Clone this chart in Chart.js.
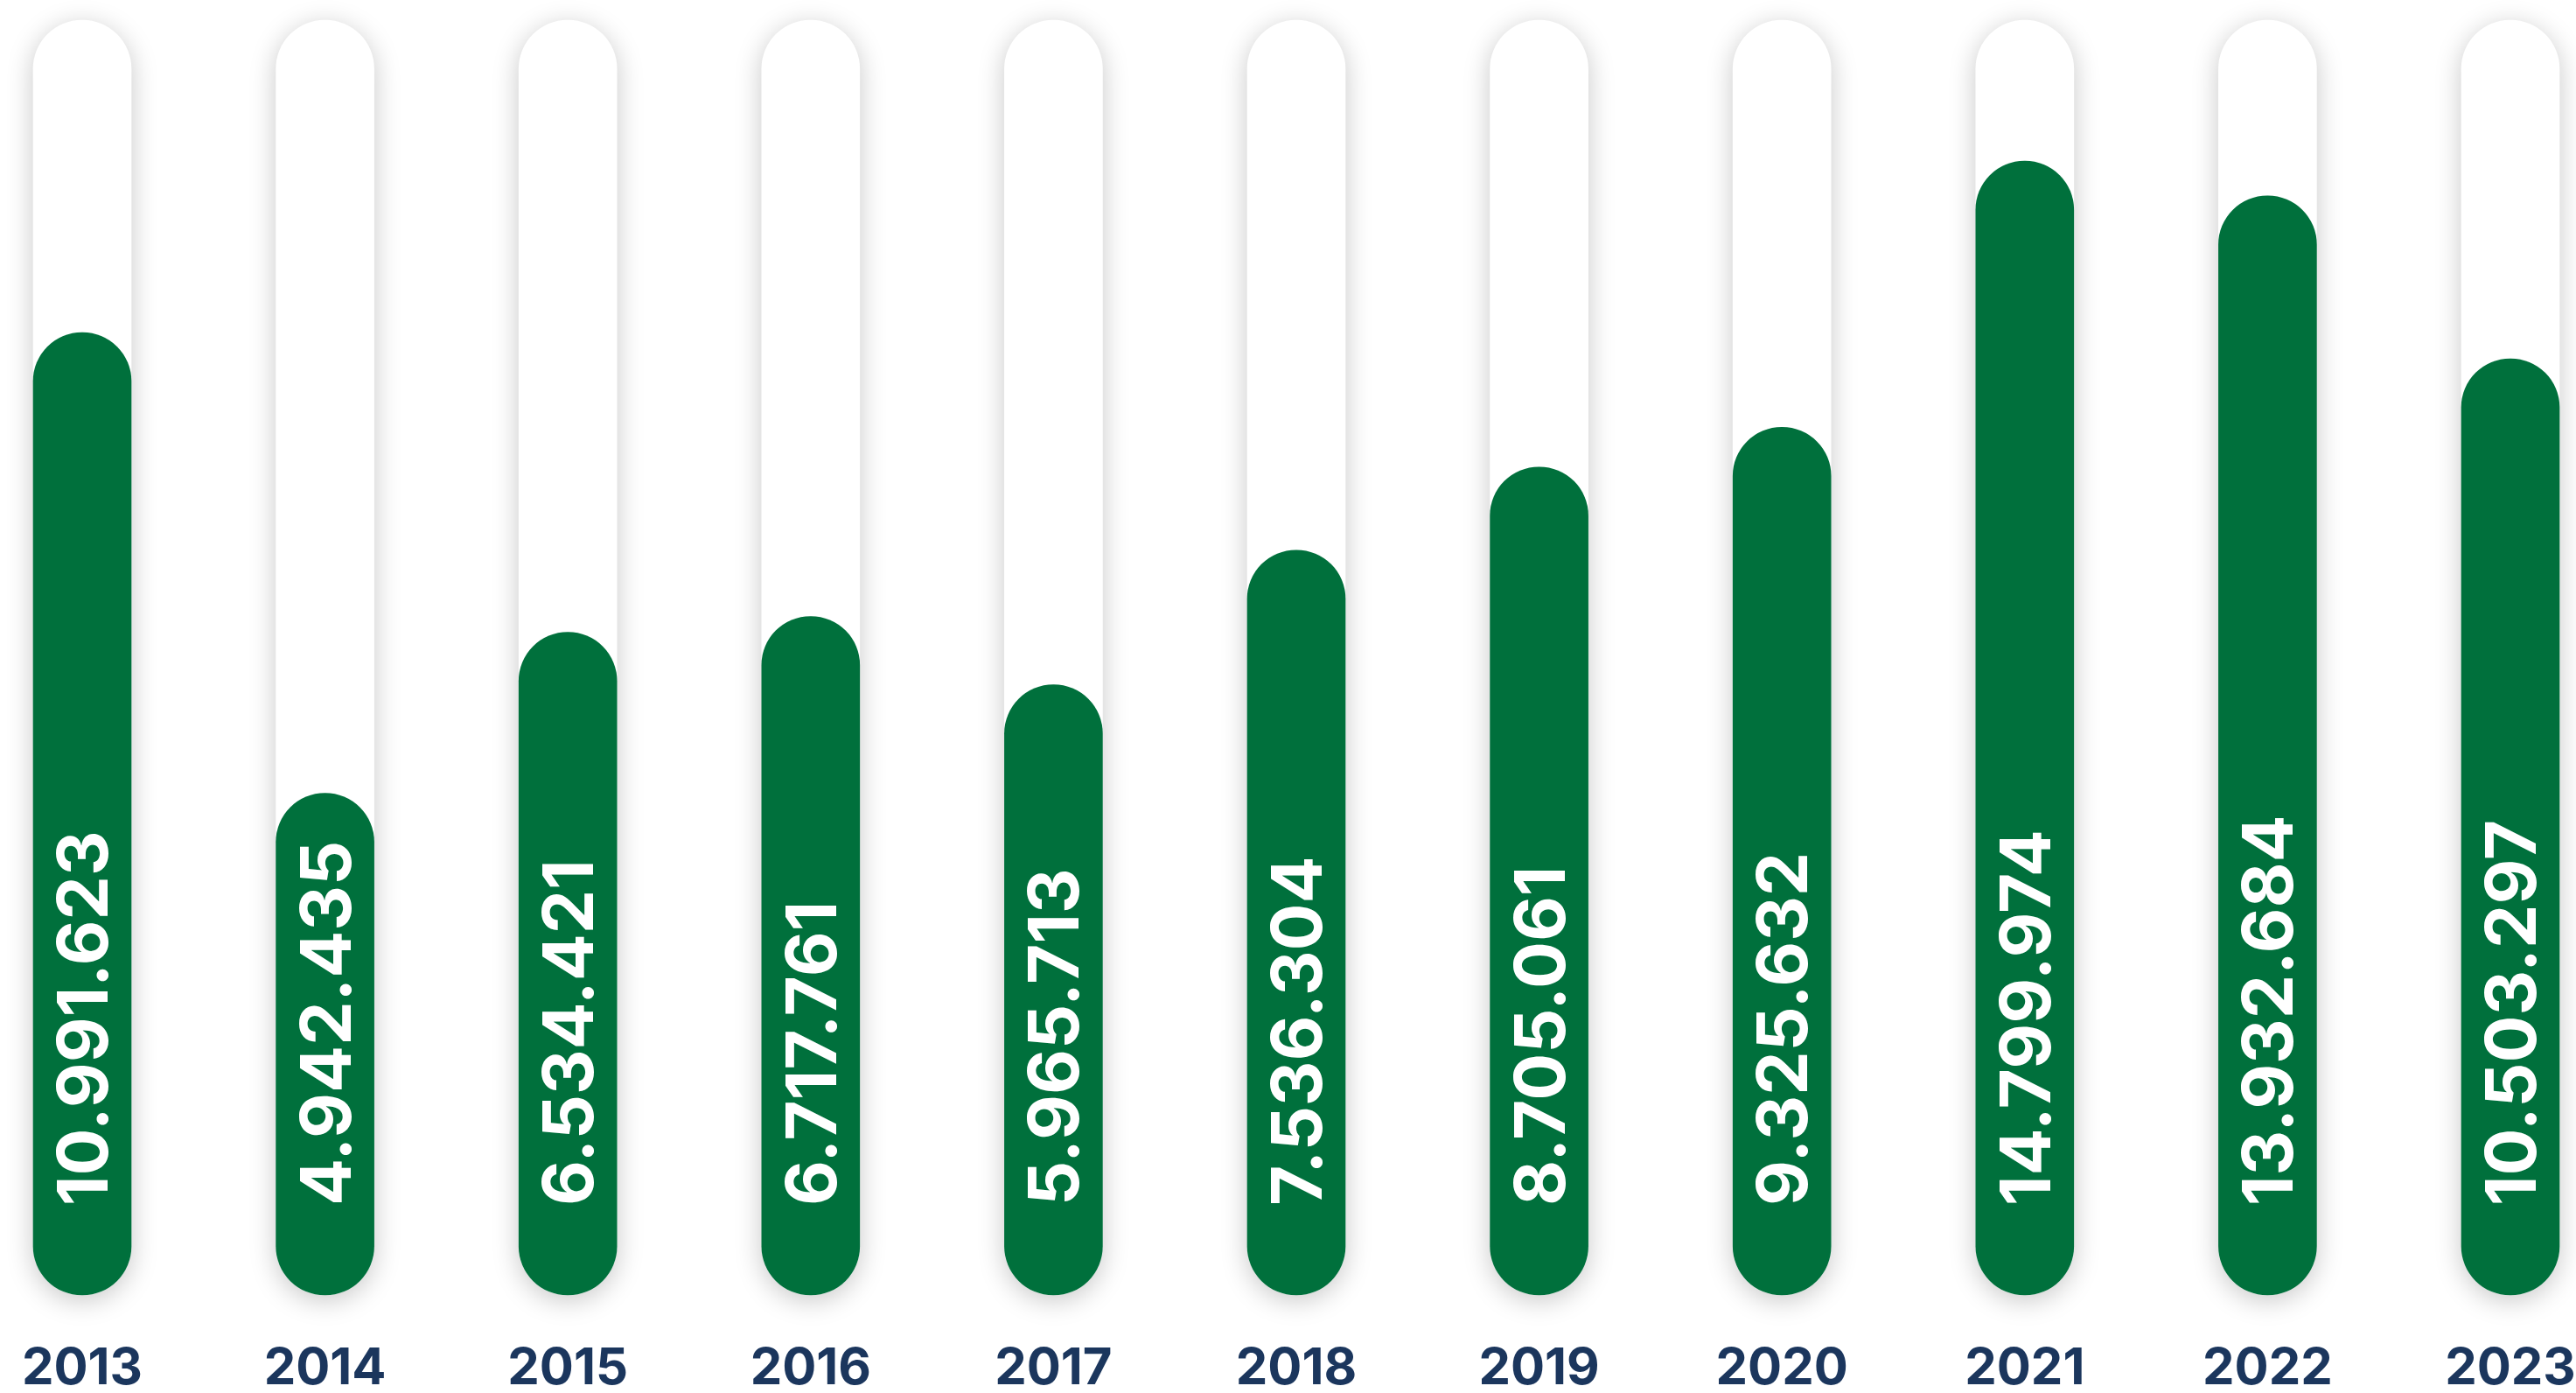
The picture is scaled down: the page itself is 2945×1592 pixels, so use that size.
<!DOCTYPE html>
<html>
<head>
<meta charset="utf-8">
<script src="https://cdn.jsdelivr.net/npm/chart.js@4"></script>
<style>
  html, body { margin: 0; padding: 0; background: #ffffff; }
  #wrap { width: 2945px; height: 1592px; position: relative; }
</style>
</head>
<body>
<div id="wrap"><canvas id="barChart"></canvas></div>
<script>
// Chart data
const years = ['2013', '2014', '2015', '2016', '2017', '2018', '2019', '2020', '2021', '2022', '2023'];
const totals = [10991623, 4942435, 6534421, 6717761, 5965713, 7536304, 8705061, 9325632, 14799974, 13932684, 10503297];

// Value range of the (hidden) y axis
const yMin = 2070000;
const yMax = 18900000;
const trackValues = years.map(() => yMax);

const green = '#00703c';
const navy = '#1b365d';

// Format 10991623 -> 10.991.623
function formatDots(n) {
    return String(n).replace(/\B(?=(\d{3})+(?!\d))/g, '.');
}

// Soft shadow behind the white tracks
const trackShadow = {
    id: 'trackShadow',
    beforeDatasetDraw(chart, args) {
        if (args.index !== 1) return;
        const ctx = chart.ctx;
        ctx.save();
        ctx.shadowColor = 'rgba(0, 0, 0, 0.22)';
        ctx.shadowBlur = 30;
        ctx.shadowOffsetX = 0;
        ctx.shadowOffsetY = 6;
    },
    afterDatasetDraw(chart, args) {
        if (args.index !== 1) return;
        chart.ctx.restore();
    }
};

// Rotated value labels inside the green bars
const valueLabels = {
    id: 'valueLabels',
    afterDatasetsDraw(chart) {
        const ctx = chart.ctx;
        const meta = chart.getDatasetMeta(0);
        meta.data.forEach((bar, i) => {
            ctx.save();
            ctx.translate(bar.x, bar.base - 102);
            ctx.rotate(-Math.PI / 2);
            ctx.fillStyle = '#ffffff';
            ctx.font = 'bold 80px Inter';
            ctx.textAlign = 'left';
            ctx.textBaseline = 'alphabetic';
            ctx.fillText(formatDots(totals[i]), 0, 29);
            ctx.restore();
        });
    }
};

const ctx = document.getElementById('barChart');
new Chart(ctx.getContext('2d'), {
    type: 'bar',
    data: {
        labels: years,
        datasets: [{
            data: totals,
            backgroundColor: green,
            borderRadius: 56,
            borderSkipped: false,
            barThickness: 112,
            grouped: false,
            clip: false
        }, {
            data: trackValues,
            backgroundColor: '#ffffff',
            borderRadius: 56,
            borderSkipped: false,
            barThickness: 112,
            grouped: false,
            clip: false
        }]
    },
    options: {
        responsive: true,
        maintainAspectRatio: false,
        animation: false,
        layout: {
            padding: { left: 94, right: 75, top: 23, bottom: 0 }
        },
        plugins: {
            legend: { display: false },
            tooltip: { enabled: false }
        },
        scales: {
            x: {
                offset: false,
                grid: { display: false, drawTicks: false },
                border: { display: false },
                ticks: {
                    color: navy,
                    padding: 50,
                    font: { family: 'Inter', size: 58, weight: 'bold' }
                },
                afterFit(scale) {
                    scale.paddingLeft = 0;
                    scale.paddingRight = 0;
                    scale.height = 112;
                }
            },
            y: {
                type: 'logarithmic',
                min: yMin,
                max: yMax,
                display: false
            }
        }
    },
    plugins: [trackShadow, valueLabels]
});
</script>
</body>
</html>
